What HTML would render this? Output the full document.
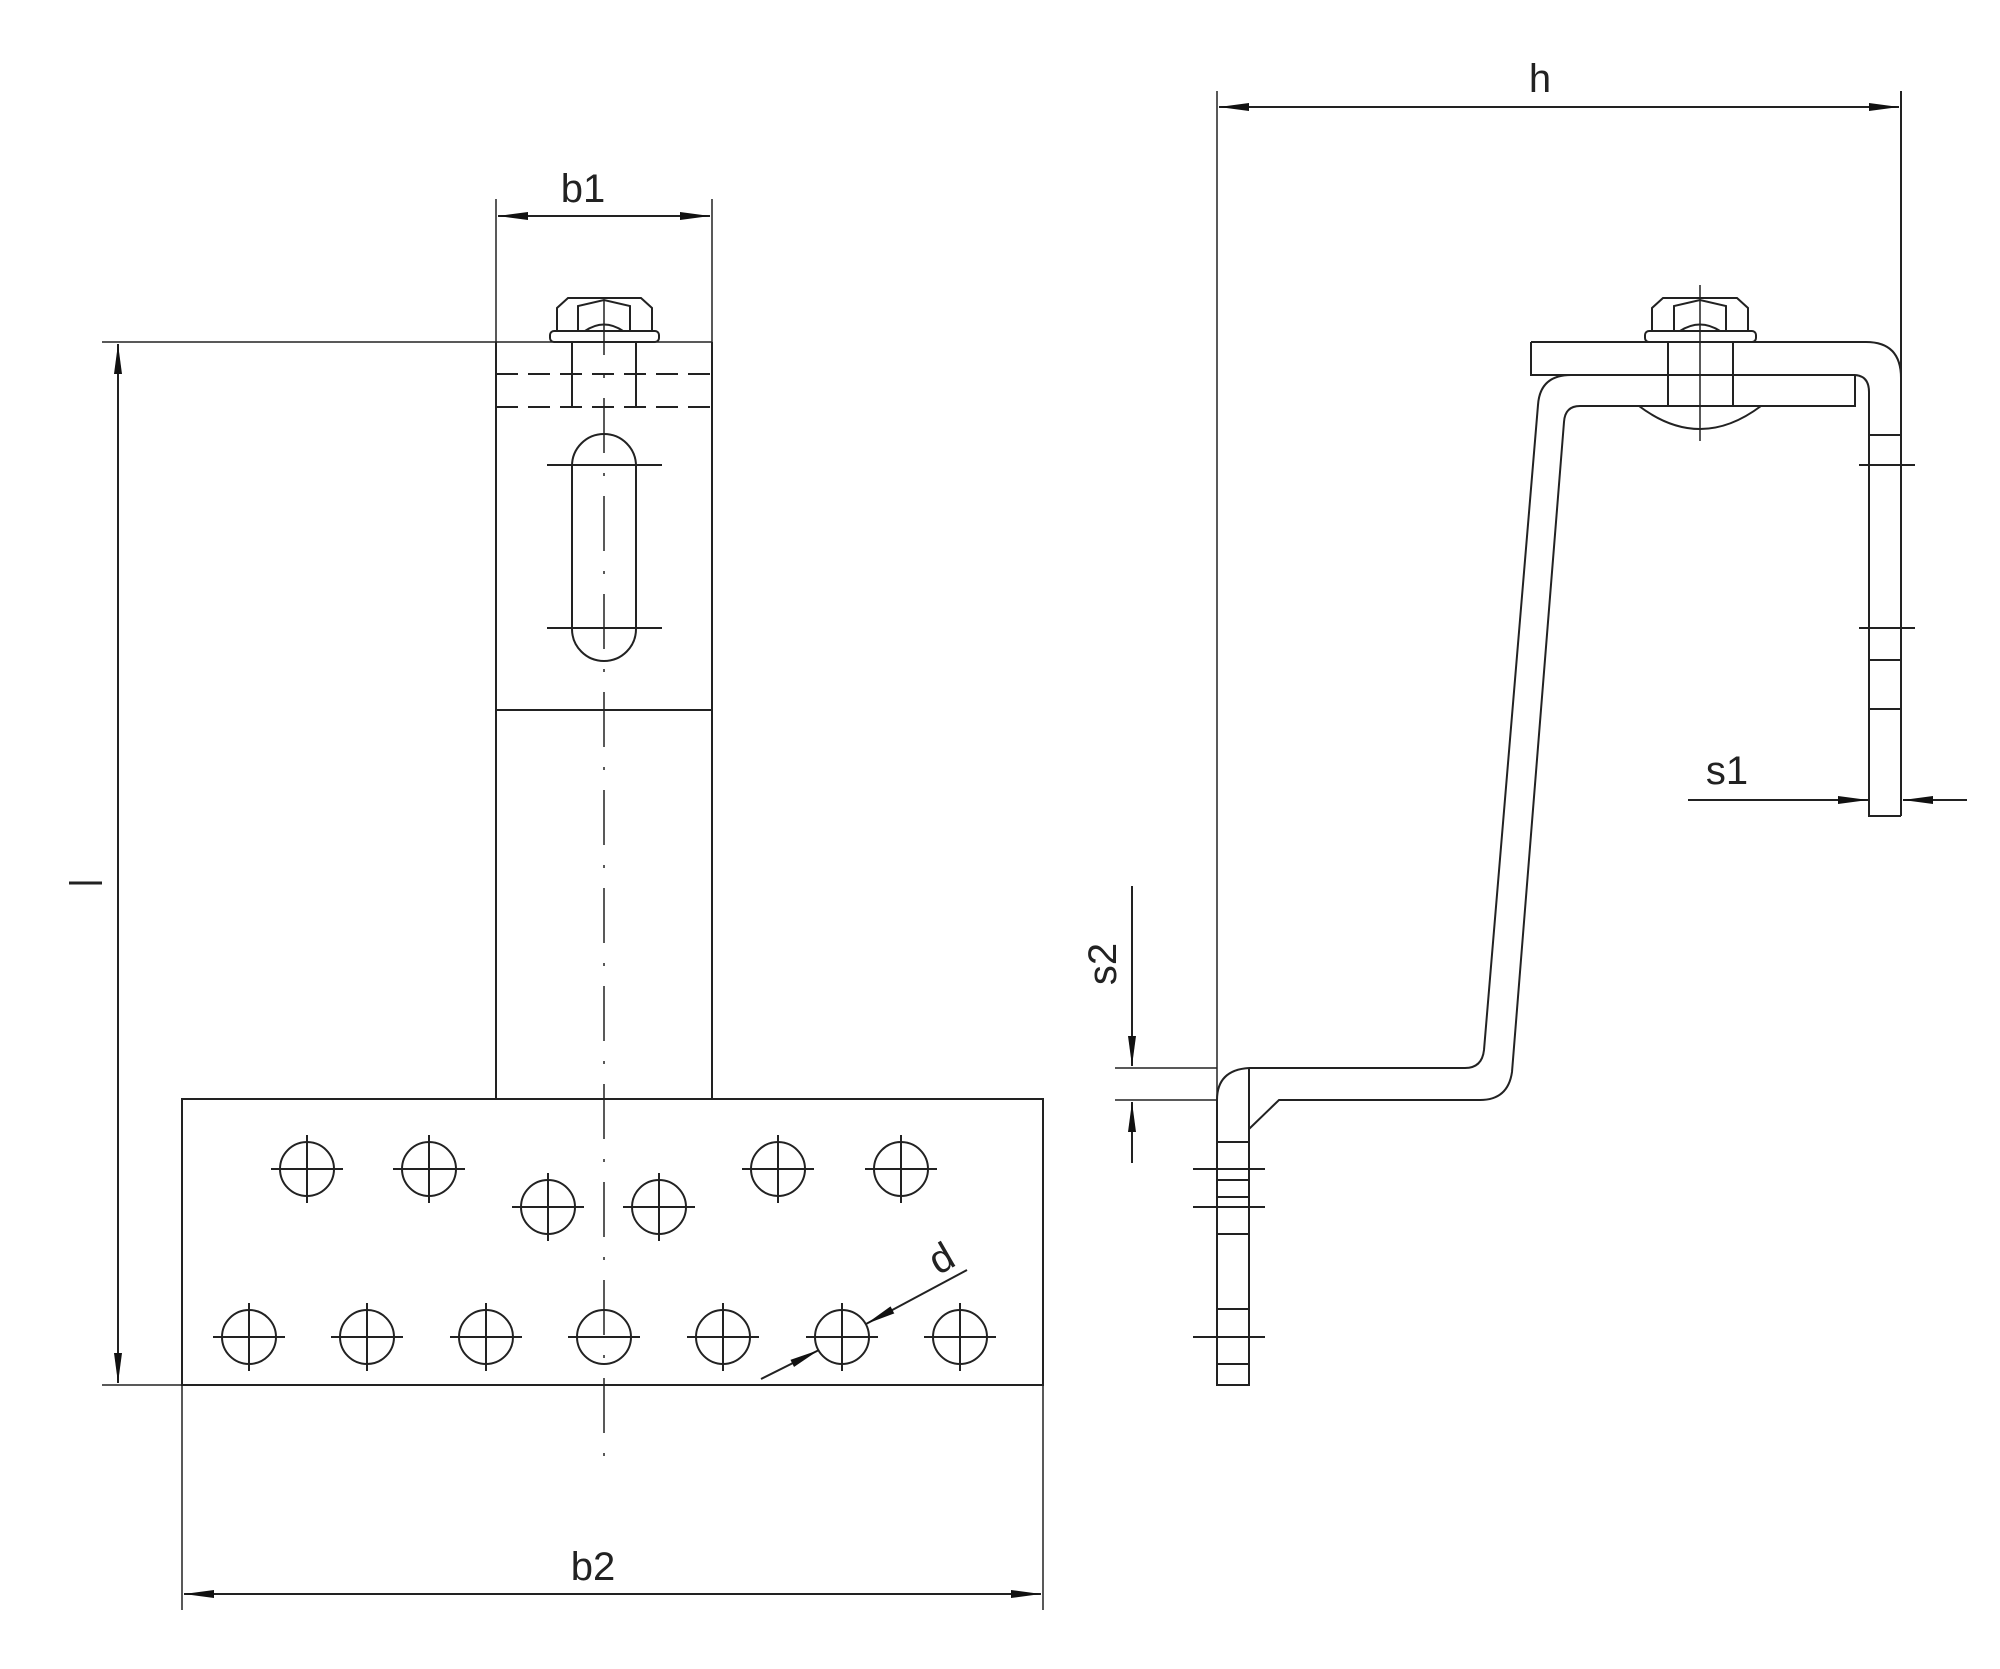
<!DOCTYPE html>
<html><head><meta charset="utf-8"><style>
html,body{margin:0;padding:0;background:#fff}
svg{display:block}
text{font-family:"Liberation Sans",sans-serif;fill:#222}
</style></head><body>
<svg width="2000" height="1669" viewBox="0 0 2000 1669" xmlns="http://www.w3.org/2000/svg">
<defs>
<marker id="a" viewBox="0 0 30 10" refX="30" refY="5" markerWidth="30" markerHeight="10" markerUnits="userSpaceOnUse" orient="auto"><path d="M0,1 L30,5 L0,9 Z" fill="#111"/></marker>
<marker id="s" viewBox="0 0 30 10" refX="0" refY="5" markerWidth="30" markerHeight="10" markerUnits="userSpaceOnUse" orient="auto"><path d="M30,1 L0,5 L30,9 Z" fill="#111"/></marker>
</defs>
<g stroke="#222" stroke-width="2" fill="none">
<!-- LEFT VIEW -->
<!-- b1 dim -->
<line x1="496" y1="199" x2="496" y2="342" stroke-width="1.5"/>
<line x1="712" y1="199" x2="712" y2="342" stroke-width="1.5"/>
<line x1="498" y1="216" x2="710" y2="216" marker-start="url(#s)" marker-end="url(#a)"/>
<!-- top line / l dim -->
<line x1="102" y1="342" x2="712" y2="342" stroke-width="1.5"/>
<line x1="102" y1="1385" x2="182" y2="1385" stroke-width="1.5"/>
<line x1="118" y1="344" x2="118" y2="1383" marker-start="url(#s)" marker-end="url(#a)"/>
<line x1="69" y1="883" x2="102" y2="883" stroke-width="3"/>
<!-- stem -->
<line x1="496" y1="342" x2="496" y2="1099"/>
<line x1="712" y1="342" x2="712" y2="1099"/>
<line x1="496" y1="710" x2="712" y2="710"/>
<!-- nut -->
<rect x="550" y="331" width="109" height="11" rx="4"/>
<path d="M557,331 L557,308 L568,298 L641,298 L652,308 L652,331"/>
<path d="M578,331 L578,306 L604,300 L630,306 L630,331 M585,331 Q604,318 623,331"/>
<line x1="572" y1="342" x2="572" y2="408"/>
<line x1="636" y1="342" x2="636" y2="408"/>
<line x1="496" y1="374" x2="712" y2="374" stroke-dasharray="22,10"/>
<line x1="496" y1="407" x2="712" y2="407" stroke-dasharray="22,10"/>
<!-- slot -->
<rect x="572" y="434" width="64" height="227" rx="32"/>
<line x1="547" y1="465" x2="662" y2="465"/>
<line x1="547" y1="628" x2="662" y2="628"/>
<!-- centerline -->
<line x1="604" y1="300" x2="604" y2="1457" stroke-width="1.5" stroke-dasharray="55,20,3,20"/>
<!-- base plate -->
<rect x="182" y="1099" width="861" height="286"/>
<line x1="182" y1="1385" x2="182" y2="1610" stroke-width="1.5"/>
<line x1="1043" y1="1385" x2="1043" y2="1610" stroke-width="1.5"/>
<line x1="184" y1="1594" x2="1041" y2="1594" marker-start="url(#s)" marker-end="url(#a)"/>
<!-- holes -->
<g id="h">
<circle cx="307" cy="1169" r="27"/><path d="M271,1169h72M307,1135v68"/>
<circle cx="429" cy="1169" r="27"/><path d="M393,1169h72M429,1135v68"/>
<circle cx="778" cy="1169" r="27"/><path d="M742,1169h72M778,1135v68"/>
<circle cx="901" cy="1169" r="27"/><path d="M865,1169h72M901,1135v68"/>
<circle cx="548" cy="1207" r="27"/><path d="M512,1207h72M548,1173v68"/>
<circle cx="659" cy="1207" r="27"/><path d="M623,1207h72M659,1173v68"/>
<circle cx="249" cy="1337" r="27"/><path d="M213,1337h72M249,1303v68"/>
<circle cx="367" cy="1337" r="27"/><path d="M331,1337h72M367,1303v68"/>
<circle cx="486" cy="1337" r="27"/><path d="M450,1337h72M486,1303v68"/>
<circle cx="604" cy="1337" r="27"/><path d="M568,1337h72"/>
<circle cx="723" cy="1337" r="27"/><path d="M687,1337h72M723,1303v68"/>
<circle cx="842" cy="1337" r="27"/><path d="M806,1337h72M842,1303v68"/>
<circle cx="960" cy="1337" r="27"/><path d="M924,1337h72M960,1303v68"/>
</g>
<!-- d dim -->
<line x1="761" y1="1379" x2="819" y2="1350" marker-end="url(#a)"/>
<line x1="967" y1="1270" x2="866" y2="1324" marker-end="url(#a)"/>
<!-- RIGHT VIEW -->
<line x1="1217" y1="91" x2="1217" y2="1385" stroke-width="1.5"/>
<line x1="1901" y1="91" x2="1901" y2="816" stroke-width="2"/>
<line x1="1219" y1="107" x2="1899" y2="107" marker-start="url(#s)" marker-end="url(#a)"/>
<!-- top plate -->
<path d="M1531,342 L1531,375 L1855,375 M1531,342 L1866,342 Q1901,342 1901,378"/>
<path d="M1855,375 L1855,406 L1580,406"/>
<path d="M1855,375 Q1869,376 1869,392 L1869,816 L1901,816"/>
<path d="M1869,435h32M1869,660h32M1869,709h32"/>
<path d="M1859,465h56M1859,628h56"/>
<!-- s1 -->
<line x1="1688" y1="800" x2="1868" y2="800" marker-end="url(#a)"/>
<line x1="1967" y1="800" x2="1903" y2="800" marker-end="url(#a)"/>
<!-- bolt right -->
<rect x="1645" y="331" width="111" height="11" rx="4"/>
<path d="M1652,331 L1652,308 L1663,298 L1737,298 L1748,308 L1748,331"/>
<path d="M1674,331 L1674,306 L1700,300 L1726,306 L1726,331 M1680,331 Q1700,318 1720,331"/>
<line x1="1668" y1="342" x2="1668" y2="406"/>
<line x1="1733" y1="342" x2="1733" y2="406"/>
<path d="M1639,406 Q1700,452 1761,406"/>
<line x1="1700" y1="285" x2="1700" y2="441" stroke-width="1.5"/>
<!-- Z body -->
<path d="M1571,375 Q1540,375 1538,405 L1484,1050 Q1482,1068 1465,1068 L1249,1068"/>
<path d="M1580,406 Q1565,406 1564,422 L1512,1072 Q1508,1100 1480,1100 L1279,1100 L1249,1129"/>
<path d="M1249,1068 Q1217,1070 1217,1100 L1217,1385 L1249,1385 L1249,1068"/>
<path d="M1217,1142h32M1217,1180h32M1217,1197h32M1217,1234h32M1217,1309h32M1217,1364h32"/>
<path d="M1193,1169h72M1193,1207h72M1193,1337h72"/>
<!-- s2 -->
<line x1="1115" y1="1068" x2="1217" y2="1068" stroke-width="1.5"/>
<line x1="1115" y1="1100" x2="1217" y2="1100" stroke-width="1.5"/>
<line x1="1132" y1="886" x2="1132" y2="1066" marker-end="url(#a)"/>
<line x1="1132" y1="1163" x2="1132" y2="1102" marker-end="url(#a)"/>
</g>
<g font-size="40">
<text x="583" y="202" text-anchor="middle">b1</text>
<text x="1540" y="92" text-anchor="middle">h</text>
<text x="1727" y="784" text-anchor="middle">s1</text>
<text x="593" y="1580" text-anchor="middle">b2</text>
<text x="0" y="0" text-anchor="middle" transform="translate(1116,964) rotate(-90)">s2</text>
<text x="0" y="0" text-anchor="middle" transform="translate(948,1270) rotate(-30)">d</text>
</g>
</svg>
</body></html>
